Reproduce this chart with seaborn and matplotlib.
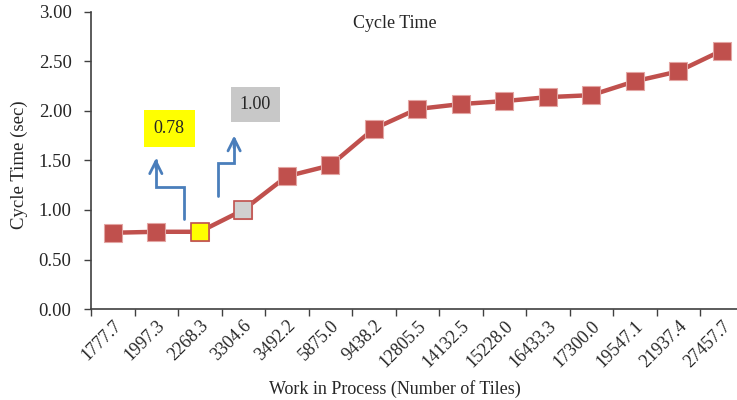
import numpy as np
import pandas as pd
import matplotlib
matplotlib.use("Agg")
import matplotlib.pyplot as plt
import seaborn as sns

# data
wip_labels = ["1777.7", "1997.3", "2268.3", "3304.6", "3492.2", "5875.0", "9438.2",
              "12805.5", "14132.5", "15228.0", "16433.3", "17300.0", "19547.1",
              "21937.4", "27457.7"]
cycle_time = [0.77, 0.78, 0.78, 1.00, 1.34, 1.45, 1.82, 2.02, 2.07, 2.10,
              2.14, 2.16, 2.30, 2.40, 2.61]
highlight_idx = [2, 3]
highlight_colors = ["#FFFF00", "#D0D0D0"]

sns.set_theme(style="white")
plt.rcParams['font.family'] = ['Liberation Serif', 'DejaVu Serif']

df = pd.DataFrame({"pos": np.arange(len(wip_labels)), "ct": cycle_time})

fig = plt.figure(figsize=(7.37, 4.0), dpi=100)
ax = fig.add_axes([91 / 737, 1 - 309 / 400, 652.5 / 737, 297 / 400])

red = "#C0504D"
sns.lineplot(data=df, x="pos", y="ct", ax=ax, color=red, linewidth=3.2,
             marker="s", markersize=13.5, markerfacecolor=red,
             markeredgecolor="#E3A5A3", markeredgewidth=0.8)

for i, c in zip(highlight_idx, highlight_colors):
    ax.plot(df.pos[i], df.ct[i], marker="s", markersize=13.5, color=c,
            markeredgecolor=red, markeredgewidth=1.2, zorder=5)

ax.set_xlim(-0.5, len(wip_labels) - 0.5)
ax.set_ylim(0, 3)
ax.set_yticks(np.arange(0, 3.01, 0.5))
ax.set_yticklabels([f"{v:.2f}" for v in np.arange(0, 3.01, 0.5)], fontsize=13.5)
ax.set_xticks(df.pos)
ax.set_xticklabels(wip_labels, rotation=45, ha="right", rotation_mode="anchor",
                   fontsize=13)
ax.set_xticks(np.arange(-0.5, len(wip_labels)), minor=True)
ax.tick_params(axis="x", which="major", length=0, pad=6)
ax.tick_params(axis="x", which="minor", length=5, width=1, color="#404040",
               direction="out", bottom=True)
ax.tick_params(axis="y", length=5, width=1, color="#404040", direction="out",
               left=True, pad=9)

for s in ["top", "right"]:
    ax.spines[s].set_visible(False)
for s in ["left", "bottom"]:
    ax.spines[s].set_color("#404040")
    ax.spines[s].set_linewidth(1.2)

ax.set_xlabel("")
ax.set_ylabel("")
fig.text(19 / 737, 1 - 165 / 400, "Cycle Time (sec)", rotation=90,
         ha="center", va="center", fontsize=13.5)
fig.text(395 / 737, 1 - 389 / 400, "Work in Process (Number of Tiles)",
         ha="center", va="center", fontsize=13)
fig.text(395 / 737, 1 - 23 / 400, "Cycle Time", ha="center", va="center",
         fontsize=13)

# callouts with bent arrows
blue = "#4A7EBB"
ax.plot([1.64, 1.64, 0.99, 0.99], [0.91, 1.23, 1.23, 1.50], color=blue, lw=2,
        solid_joinstyle="miter")
ax.annotate("", xy=(0.99, 1.55), xytext=(0.99, 1.40),
            arrowprops=dict(arrowstyle="->", color=blue, lw=2,
                            mutation_scale=22))
ax.plot([2.42, 2.42, 2.79, 2.79], [1.14, 1.475, 1.475, 1.72], color=blue, lw=2,
        solid_joinstyle="miter")
ax.annotate("", xy=(2.79, 1.78), xytext=(2.79, 1.60),
            arrowprops=dict(arrowstyle="->", color=blue, lw=2,
                            mutation_scale=22))

ax.text(1.30, 1.82, f"{cycle_time[2]:.2f}", ha="center", va="center",
        fontsize=13, bbox=dict(boxstyle="square,pad=0.55", fc="#FFFF00",
                               ec="none"))
ax.text(3.28, 2.07, f"{cycle_time[3]:.2f}", ha="center", va="center",
        fontsize=13, bbox=dict(boxstyle="square,pad=0.5", fc="#C8C8C8",
                               ec="none"))

fig.savefig("out.png", dpi=100)
